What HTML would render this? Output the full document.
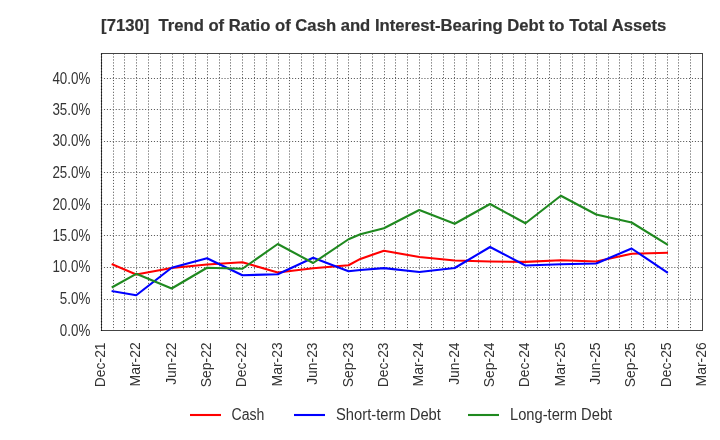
<!DOCTYPE html><html lang="en"><head><meta charset="utf-8"><title>chart</title><style>html,body{margin:0;padding:0;background:#fff}svg{display:block}text{font-family:"Liberation Sans",sans-serif;fill:#333}</style></head><body>
<svg width="720" height="440" viewBox="0 0 720 440">
<rect width="720" height="440" fill="#fff"/>
<g stroke="#5c5c5c" stroke-width="1" stroke-dasharray="1.11 1.83" fill="none">
<line x1="101.5" y1="331.0" x2="101.5" y2="53.5"/>
<line x1="113.5" y1="331.0" x2="113.5" y2="53.5"/>
<line x1="124.5" y1="331.0" x2="124.5" y2="53.5"/>
<line x1="136.5" y1="331.0" x2="136.5" y2="53.5"/>
<line x1="148.5" y1="331.0" x2="148.5" y2="53.5"/>
<line x1="160.5" y1="331.0" x2="160.5" y2="53.5"/>
<line x1="172.5" y1="331.0" x2="172.5" y2="53.5"/>
<line x1="183.5" y1="331.0" x2="183.5" y2="53.5"/>
<line x1="195.5" y1="331.0" x2="195.5" y2="53.5"/>
<line x1="207.5" y1="331.0" x2="207.5" y2="53.5"/>
<line x1="219.5" y1="331.0" x2="219.5" y2="53.5"/>
<line x1="230.5" y1="331.0" x2="230.5" y2="53.5"/>
<line x1="242.5" y1="331.0" x2="242.5" y2="53.5"/>
<line x1="254.5" y1="331.0" x2="254.5" y2="53.5"/>
<line x1="266.5" y1="331.0" x2="266.5" y2="53.5"/>
<line x1="278.5" y1="331.0" x2="278.5" y2="53.5"/>
<line x1="289.5" y1="331.0" x2="289.5" y2="53.5"/>
<line x1="301.5" y1="331.0" x2="301.5" y2="53.5"/>
<line x1="313.5" y1="331.0" x2="313.5" y2="53.5"/>
<line x1="325.5" y1="331.0" x2="325.5" y2="53.5"/>
<line x1="337.5" y1="331.0" x2="337.5" y2="53.5"/>
<line x1="348.5" y1="331.0" x2="348.5" y2="53.5"/>
<line x1="360.5" y1="331.0" x2="360.5" y2="53.5"/>
<line x1="372.5" y1="331.0" x2="372.5" y2="53.5"/>
<line x1="384.5" y1="331.0" x2="384.5" y2="53.5"/>
<line x1="395.5" y1="331.0" x2="395.5" y2="53.5"/>
<line x1="407.5" y1="331.0" x2="407.5" y2="53.5"/>
<line x1="419.5" y1="331.0" x2="419.5" y2="53.5"/>
<line x1="431.5" y1="331.0" x2="431.5" y2="53.5"/>
<line x1="443.5" y1="331.0" x2="443.5" y2="53.5"/>
<line x1="454.5" y1="331.0" x2="454.5" y2="53.5"/>
<line x1="466.5" y1="331.0" x2="466.5" y2="53.5"/>
<line x1="478.5" y1="331.0" x2="478.5" y2="53.5"/>
<line x1="490.5" y1="331.0" x2="490.5" y2="53.5"/>
<line x1="502.5" y1="331.0" x2="502.5" y2="53.5"/>
<line x1="513.5" y1="331.0" x2="513.5" y2="53.5"/>
<line x1="525.5" y1="331.0" x2="525.5" y2="53.5"/>
<line x1="537.5" y1="331.0" x2="537.5" y2="53.5"/>
<line x1="549.5" y1="331.0" x2="549.5" y2="53.5"/>
<line x1="560.5" y1="331.0" x2="560.5" y2="53.5"/>
<line x1="572.5" y1="331.0" x2="572.5" y2="53.5"/>
<line x1="584.5" y1="331.0" x2="584.5" y2="53.5"/>
<line x1="596.5" y1="331.0" x2="596.5" y2="53.5"/>
<line x1="608.5" y1="331.0" x2="608.5" y2="53.5"/>
<line x1="619.5" y1="331.0" x2="619.5" y2="53.5"/>
<line x1="631.5" y1="331.0" x2="631.5" y2="53.5"/>
<line x1="643.5" y1="331.0" x2="643.5" y2="53.5"/>
<line x1="655.5" y1="331.0" x2="655.5" y2="53.5"/>
<line x1="667.5" y1="331.0" x2="667.5" y2="53.5"/>
<line x1="678.5" y1="331.0" x2="678.5" y2="53.5"/>
<line x1="690.5" y1="331.0" x2="690.5" y2="53.5"/>
<line x1="101.0" y1="299.5" x2="702.5" y2="299.5"/>
<line x1="101.0" y1="267.5" x2="702.5" y2="267.5"/>
<line x1="101.0" y1="235.5" x2="702.5" y2="235.5"/>
<line x1="101.0" y1="204.5" x2="702.5" y2="204.5"/>
<line x1="101.0" y1="172.5" x2="702.5" y2="172.5"/>
<line x1="101.0" y1="141.5" x2="702.5" y2="141.5"/>
<line x1="101.0" y1="109.5" x2="702.5" y2="109.5"/>
<line x1="101.0" y1="78.5" x2="702.5" y2="78.5"/>
</g>
<polyline points="112.66,264.50 136.25,274.50 171.63,268.00 207.02,264.50 242.40,262.25 277.78,272.50 313.16,268.25 348.54,265.25 360.34,258.90 383.93,250.75 419.31,257.00 454.69,260.50 490.07,261.50 525.45,261.90 560.84,260.25 596.22,261.50 631.60,253.75 666.98,252.75" fill="none" stroke="#ff0000" stroke-width="2.1" stroke-linejoin="round" stroke-linecap="square"/>
<polyline points="112.66,291.20 136.25,295.25 171.63,267.75 207.02,258.25 242.40,275.25 277.78,274.25 313.16,257.75 348.54,271.25 360.34,270.00 383.93,268.10 419.31,272.00 454.69,268.00 490.07,247.00 525.45,265.50 560.84,264.25 596.22,263.50 631.60,248.50 666.98,272.25" fill="none" stroke="#0000ff" stroke-width="2.1" stroke-linejoin="round" stroke-linecap="square"/>
<polyline points="112.66,287.00 136.25,273.80 171.63,288.50 207.02,267.75 242.40,268.75 277.78,244.00 313.16,263.00 348.54,239.25 360.34,234.30 383.93,228.25 419.31,210.00 454.69,223.75 490.07,204.00 525.45,223.25 560.84,195.75 596.22,214.50 631.60,222.50 666.98,244.25" fill="none" stroke="#1f891f" stroke-width="2.1" stroke-linejoin="round" stroke-linecap="square"/>
<rect x="101.5" y="53.5" width="601.0" height="277.0" fill="none" stroke="#444" stroke-width="1"/>
<line x1="101.5" y1="331.0" x2="101.5" y2="53.5" stroke="#111" stroke-width="1.2" stroke-dasharray="1.11 1.83"/>
<g opacity="0.999">
<text transform="translate(101.1,31) scale(0.999,1)" font-size="16.67" font-weight="bold" stroke="#333" stroke-width="0.2" xml:space="preserve">[7130]  Trend of Ratio of Cash and Interest-Bearing Debt to Total Assets</text>
<text transform="translate(90.3,336) scale(0.858,1)" font-size="15.6" text-anchor="end">0.0%</text>
<text transform="translate(90.3,304) scale(0.858,1)" font-size="15.6" text-anchor="end">5.0%</text>
<text transform="translate(90.3,272) scale(0.858,1)" font-size="15.6" text-anchor="end">10.0%</text>
<text transform="translate(90.3,241) scale(0.858,1)" font-size="15.6" text-anchor="end">15.0%</text>
<text transform="translate(90.3,210) scale(0.858,1)" font-size="15.6" text-anchor="end">20.0%</text>
<text transform="translate(90.3,178) scale(0.858,1)" font-size="15.6" text-anchor="end">25.0%</text>
<text transform="translate(90.3,146) scale(0.858,1)" font-size="15.6" text-anchor="end">30.0%</text>
<text transform="translate(90.3,115) scale(0.858,1)" font-size="15.6" text-anchor="end">35.0%</text>
<text transform="translate(90.3,84) scale(0.858,1)" font-size="15.6" text-anchor="end">40.0%</text>
<text transform="translate(105,342.4) rotate(-90) scale(0.915,1)" font-size="15.2" text-anchor="end">Dec-21</text>
<text transform="translate(140,342.4) rotate(-90) scale(0.915,1)" font-size="15.2" text-anchor="end">Mar-22</text>
<text transform="translate(176,342.4) rotate(-90) scale(0.915,1)" font-size="15.2" text-anchor="end">Jun-22</text>
<text transform="translate(211,342.4) rotate(-90) scale(0.915,1)" font-size="15.2" text-anchor="end">Sep-22</text>
<text transform="translate(246,342.4) rotate(-90) scale(0.915,1)" font-size="15.2" text-anchor="end">Dec-22</text>
<text transform="translate(282,342.4) rotate(-90) scale(0.915,1)" font-size="15.2" text-anchor="end">Mar-23</text>
<text transform="translate(317,342.4) rotate(-90) scale(0.915,1)" font-size="15.2" text-anchor="end">Jun-23</text>
<text transform="translate(353,342.4) rotate(-90) scale(0.915,1)" font-size="15.2" text-anchor="end">Sep-23</text>
<text transform="translate(388,342.4) rotate(-90) scale(0.915,1)" font-size="15.2" text-anchor="end">Dec-23</text>
<text transform="translate(423,342.4) rotate(-90) scale(0.915,1)" font-size="15.2" text-anchor="end">Mar-24</text>
<text transform="translate(459,342.4) rotate(-90) scale(0.915,1)" font-size="15.2" text-anchor="end">Jun-24</text>
<text transform="translate(494,342.4) rotate(-90) scale(0.915,1)" font-size="15.2" text-anchor="end">Sep-24</text>
<text transform="translate(529,342.4) rotate(-90) scale(0.915,1)" font-size="15.2" text-anchor="end">Dec-24</text>
<text transform="translate(565,342.4) rotate(-90) scale(0.915,1)" font-size="15.2" text-anchor="end">Mar-25</text>
<text transform="translate(600,342.4) rotate(-90) scale(0.915,1)" font-size="15.2" text-anchor="end">Jun-25</text>
<text transform="translate(635,342.4) rotate(-90) scale(0.915,1)" font-size="15.2" text-anchor="end">Sep-25</text>
<text transform="translate(671,342.4) rotate(-90) scale(0.915,1)" font-size="15.2" text-anchor="end">Dec-25</text>
<text transform="translate(706,342.4) rotate(-90) scale(0.915,1)" font-size="15.2" text-anchor="end">Mar-26</text>
<text transform="translate(231.5,420.3) scale(0.904,1)" font-size="15.6">Cash</text>
<text transform="translate(336,420.3) scale(0.946,1)" font-size="15.6">Short-term Debt</text>
<text transform="translate(510,420.3) scale(0.943,1)" font-size="15.6">Long-term Debt</text>
</g>
<g stroke-width="2.1" stroke-linecap="butt"><line x1="190" y1="415" x2="221" y2="415" stroke="#ff0000"/><line x1="294" y1="415" x2="325" y2="415" stroke="#0000ff"/><line x1="468" y1="415" x2="499" y2="415" stroke="#1f891f"/></g>
</svg></body></html>
